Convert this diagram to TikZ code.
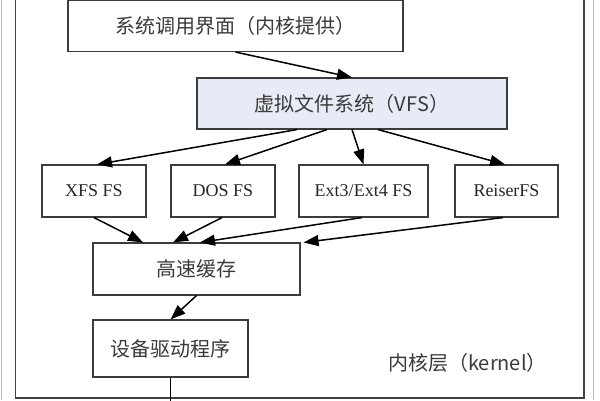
\documentclass[tikz,border=0pt]{standalone}
\usepackage{fontspec}
\setmainfont{Liberation Serif}
\newfontfamily\cjk{Noto Sans CJK SC}
\usepackage{tikz}
\usetikzlibrary{arrows.meta,positioning}
\definecolor{vfsblue}{HTML}{E7EBF5}
\definecolor{edgegray}{HTML}{3C3C3C}
\definecolor{txtgray}{HTML}{3A3A3A}

\begin{document}
\begin{tikzpicture}[x=10pt, y=10pt,
        box/.style={draw=edgegray, line width=1.1pt, inner sep=0pt, minimum height=51pt},
        cn/.style={font=\cjk\fontsize{20pt}{24pt}\selectfont, text=txtgray},
        fs/.style={box, minimum height=52pt, font=\fontsize{18pt}{22pt}\selectfont, text=black!85},
        arr/.style={-{Triangle[length=15pt,width=11pt]}, line width=1.5pt},
        line/.style={line width=1.5pt}
    ]
        \useasboundingbox (0,0) rectangle (60,-40);
        \clip (0,0) rectangle (60,-40);

        % ── Kernel frame and page edges ──────────────────────────────────
        \draw[black!25, line width=1pt] (0.1,0) -- (0.1,-40);
        \draw[black!25, line width=1pt] (59.3,0) -- (59.3,-40);
        \draw[black!75, line width=1.6pt] (1.55,1) rectangle (58.4,-39.8);

        % ── Layers (top to bottom) ───────────────────────────────────────
        \node[box, cn, minimum width=335pt] (sci) at (23.55,-2.6) {系统调用界面（内核提供）};
        \node[box, cn, fill=vfsblue, minimum width=310pt] (vfs) at (35.2,-10.35) {虚拟文件系统（VFS）};
        \node[fs, minimum width=104pt] (xfs)    at (9.4,  -19.1) {XFS FS};
        \node[fs, minimum width=104pt] (dos)    at (22.3, -19.1) {DOS FS};
        \node[fs, minimum width=129pt] (ext)    at (36.35,-19.1) {Ext3/Ext4 FS};
        \node[fs, minimum width=103pt] (reiser) at (50.65,-19.1) {ReiserFS};
        \node[box, cn, minimum width=207pt, minimum height=52pt] (cache) at (19.65,-26.9) {高速缓存};
        \node[box, cn, minimum width=155pt, minimum height=57pt] (drv)   at (17.05,-34.85) {设备驱动程序};
        \node[cn] (kernel) at (46.75,-36.3) {内核层（kernel）};
        \coordinate (busend) at (17.05,-40.5);

        % ── System call -> VFS -> file systems ───────────────────────────
        \draw[arr] (sci.south) -- (vfs.north);
        \draw[arr] ([xshift=-55pt]vfs.south) -- ([xshift=3pt]xfs.north);
        \draw[arr] ([xshift=-25pt]vfs.south) -- ([xshift=2pt]dos.north);
        \draw[arr] (vfs.south) -- (ext.north);
        \draw[arr] ([xshift=26pt]vfs.south) -- ([xshift=-1.5pt]reiser.north);

        % ── File systems -> cache -> driver ──────────────────────────────
        \draw[arr] (xfs.south) -- ([xshift=-53.5pt]cache.north);
        \draw[arr] ([xshift=-1pt]dos.south) -- ([xshift=-23.5pt]cache.north);
        \draw[arr] ([xshift=-1.5pt]ext.south) -- ([xshift=3.5pt]cache.north);
        \draw[arr] ([xshift=-3.5pt]reiser.south) -- ([xshift=3pt]cache.north east);
        \draw[arr] (cache.south) -- (drv.north);
        \draw[line] (drv.south) -- (busend);

    \end{tikzpicture}
\end{document}
